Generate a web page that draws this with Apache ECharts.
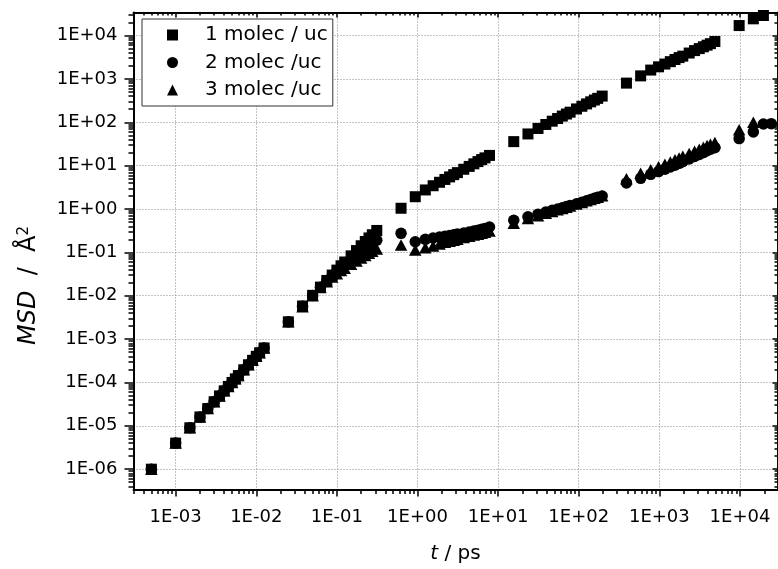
<!DOCTYPE html>
<html>
<head>
<meta charset="utf-8">
<script src="https://cdn.jsdelivr.net/npm/echarts@6/dist/echarts.min.js"></script>
<style>
html,body{margin:0;padding:0;background:#fff;}
#main{width:778px;height:569px;}
</style>
</head>
<body>
<div id="main"></div>
<script>
// time points in ps (one list shared by the three runs)
var times = [
  5e-4, 1e-3, 1.5e-3, 2e-3, 2.5e-3, 3e-3, 3.5e-3, 4e-3, 4.5e-3, 5e-3, 5.5e-3, 6e-3, 7e-3, 8e-3, 9e-3, 1e-2, 1.1e-2, 1.25e-2,
  0.025, 0.0375, 0.05, 0.0625, 0.075, 0.0875, 0.1, 0.1125, 0.125, 0.15, 0.175, 0.2, 0.225, 0.25, 0.275, 0.3125,
  0.625, 0.9375, 1.25, 1.5625, 1.875, 2.1875, 2.5, 2.8125, 3.125, 3.75, 4.375, 5, 5.625, 6.25, 6.875, 7.8125,
  15.625, 23.4375, 31.25, 39.0625, 46.875, 54.6875, 62.5, 70.3125, 78.125, 93.75, 109.375, 125, 140.625, 156.25, 171.875, 195.3125,
  390.625, 585.9375, 781.25, 976.5625, 1171.875, 1367.1875, 1562.5, 1757.8125, 1953.125, 2343.75, 2734.375, 3125, 3515.625, 3906.25, 4296.875, 4882.8125,
  9765.625, 14648.4375, 19531.25, 24414.0625
];
// MSD (A^2), 1 molec / uc  (squares)
var msd1 = [
  1e-6, 4e-6, 9e-6, 1.6e-5, 2.5e-5, 3.6e-5, 4.9e-5, 6.4e-5, 8.1e-5, 1e-4, 1.21e-4, 1.44e-4, 1.96e-4, 2.56e-4, 3.24e-4, 4e-4, 4.84e-4, 6.25e-4,
  2.5e-3, 5.8e-3, 0.0102, 0.0158, 0.0225, 0.030, 0.039, 0.049, 0.060, 0.083, 0.110, 0.142, 0.178, 0.215, 0.255, 0.32,
  1.04, 1.92, 2.75, 3.44, 4.13, 4.8, 5.5, 6.2, 6.9, 8.25, 9.6, 11.0, 12.4, 13.8, 15.1, 17.2,
  35.8, 53.8, 72, 89, 106, 122, 139, 155, 171, 203, 234, 265, 296, 326, 356, 402,
  800, 1175, 1600, 1900, 2200, 2500, 2800, 3100, 3350, 3950, 4500, 5000, 5500, 6000, 6500, 7300,
  17000, 24300, 29000, null
];
// 2 molec /uc  (circles)
var msd2 = [
  1e-6, 4e-6, 9e-6, 1.6e-5, 2.5e-5, 3.6e-5, 4.9e-5, 6.4e-5, 8.1e-5, 1e-4, 1.21e-4, 1.44e-4, 1.96e-4, 2.56e-4, 3.24e-4, 4e-4, 4.84e-4, 6.25e-4,
  2.5e-3, 5.7e-3, 0.0101, 0.0157, 0.022, 0.029, 0.036, 0.043, 0.051, 0.065, 0.080, 0.097, 0.115, 0.135, 0.155, 0.19,
  0.275, 0.176, 0.2, 0.215, 0.225, 0.235, 0.245, 0.255, 0.265, 0.28, 0.295, 0.31, 0.325, 0.34, 0.355, 0.385,
  0.55, 0.66, 0.76, 0.85, 0.93, 1.0, 1.07, 1.14, 1.2, 1.32, 1.44, 1.55, 1.66, 1.76, 1.86, 2.0,
  4.0, 5.1, 6.3, 7.3, 8.3, 9.3, 10.2, 11.3, 12.3, 14.2, 16.2, 18.1, 20, 22, 23.8, 26,
  42, 60, 91, 93
];
// 3 molec /uc  (triangles)
var msd3 = [
  1e-6, 4e-6, 9e-6, 1.6e-5, 2.5e-5, 3.6e-5, 4.9e-5, 6.4e-5, 8.1e-5, 1e-4, 1.21e-4, 1.44e-4, 1.96e-4, 2.56e-4, 3.24e-4, 4e-4, 4.84e-4, 6.25e-4,
  2.5e-3, 5.6e-3, 0.0100, 0.0155, 0.021, 0.027, 0.032, 0.038, 0.043, 0.053, 0.063, 0.074, 0.085, 0.096, 0.106, 0.12,
  0.148, 0.113, 0.128, 0.14, 0.155, 0.17, 0.18, 0.19, 0.20, 0.22, 0.235, 0.25, 0.26, 0.275, 0.29, 0.31,
  0.47, 0.6, 0.7, 0.8, 0.88, 0.96, 1.03, 1.1, 1.17, 1.3, 1.42, 1.54, 1.65, 1.76, 1.87, 2.02,
  5.0, 6.7, 8.0, 9.4, 10.8, 12.2, 13.6, 15, 16.5, 19, 21.5, 24, 26.5, 29, 31, 34,
  67, 100, null, null
];
var seriesNames = ['1 molec / uc', '2 molec /uc', '3 molec /uc'];
var xMajor = [1e-3, 1e-2, 1e-1, 1, 10, 100, 1000, 10000];
var yMajor = [1e-6, 1e-5, 1e-4, 1e-3, 1e-2, 1e-1, 1, 10, 100, 1000, 10000];
var xMin = 3e-4, xMax = 2.92e4;
var yMin = 3.4e-7, yMax = 3.4e4;

var FONT = 'DejaVu Sans';

function pairs(vals) {
  var out = [];
  for (var i = 0; i < times.length; i++) {
    if (vals[i] != null) out.push([times[i], vals[i]]);
  }
  return out;
}
// minor ticks 2..9 x 10^n inside [lo, hi]
function minors(lo, hi) {
  var res = [];
  for (var e = Math.floor(Math.log10(lo)); e <= Math.ceil(Math.log10(hi)); e++) {
    for (var m = 2; m <= 9; m++) {
      var v = m * Math.pow(10, e);
      if (v >= lo && v <= hi) res.push(v);
    }
  }
  return res;
}
function sci(v) {
  var e = Math.round(Math.log10(v));
  var a = Math.abs(e);
  return '1E' + (e < 0 ? '-' : '+') + (a < 10 ? '0' : '') + a;
}

var black = '#000';
function tickAxis(pos, vals, len, inside, showLine, min, max) {
  return {
    type: 'log', position: pos, min: min, max: max,
    axisLine: { show: showLine, lineStyle: { color: black, width: 2 } },
    axisTick: { show: true, inside: inside, length: len, customValues: vals, lineStyle: { color: black, width: 1.5 } },
    axisLabel: { show: false },
    splitLine: { show: false },
    minorTick: { show: false }
  };
}

var myChart = echarts.init(document.getElementById('main'));
myChart.setOption({
  animation: false,
  backgroundColor: '#fff',
  grid: { left: 133.5, right: 0.5, top: 12.5, bottom: 79.5, outerBoundsMode: 'none' },
  legend: {
    orient: 'vertical',
    left: 142, top: 19,
    padding: [6, 5, 6, 25],
    itemGap: 7.5,
    itemWidth: 11, itemHeight: 11,
    borderColor: '#333', borderWidth: 1,
    backgroundColor: '#fff',
    textStyle: { fontFamily: FONT, fontSize: 20, color: black, padding: [0, 0, 0, 22] },
    data: [
      { name: seriesNames[0], icon: 'rect' },
      { name: seriesNames[1], icon: 'circle' },
      { name: seriesNames[2], icon: 'triangle' }
    ]
  },
  xAxis: [
    {
      type: 'log', position: 'bottom', min: xMin, max: xMax,
      axisLine: { lineStyle: { color: black, width: 2 } },
      axisTick: { length: 7, customValues: xMajor, lineStyle: { color: black, width: 1.5 } },
      axisLabel: { customValues: xMajor, formatter: sci, fontFamily: FONT, fontSize: 18, color: black, margin: 19 },
      splitLine: { show: true, lineStyle: { color: '#888', width: 1, type: [1, 2] } },
      name: '{i|t} / ps',
      nameLocation: 'middle',
      nameGap: 54,
      nameTextStyle: { fontFamily: FONT, fontSize: 20, color: black,
        rich: { i: { fontFamily: FONT, fontSize: 20, fontStyle: 'italic', color: black } } }
    },
    tickAxis('bottom', minors(xMin, xMax), 4.5, false, false, xMin, xMax),
    tickAxis('top', xMajor, 5, true, true, xMin, xMax),
    tickAxis('top', minors(xMin, xMax), 3, true, false, xMin, xMax)
  ],
  yAxis: [
    {
      type: 'log', position: 'left', min: yMin, max: yMax,
      axisLine: { lineStyle: { color: black, width: 2 } },
      axisTick: { length: 9, customValues: yMajor, lineStyle: { color: black, width: 1.5 } },
      axisLabel: { customValues: yMajor, formatter: sci, fontFamily: FONT, fontSize: 18, color: black, margin: 16 },
      splitLine: { show: true, lineStyle: { color: '#888', width: 1, type: [1, 2] } }
    },
    tickAxis('left', minors(yMin, yMax), 5, false, false, yMin, yMax),
    tickAxis('right', yMajor, 5, true, true, yMin, yMax),
    tickAxis('right', minors(yMin, yMax), 3, true, false, yMin, yMax)
  ],
  graphic: [{
    type: 'text',
    x: 29, y: 345,
    rotation: Math.PI / 2,
    style: {
      text: '{i|MSD}  /  \u00C5{s|2}',
      fill: black,
      fontFamily: FONT, fontSize: 24,
      align: 'left', verticalAlign: 'middle',
      rich: {
        i: { fontFamily: FONT, fontSize: 24, fontStyle: 'italic', fill: black },
        s: { fontFamily: FONT, fontSize: 15, verticalAlign: 'top', fill: black }
      }
    }
  }],
  series: [
    { type: 'scatter', name: seriesNames[0], symbol: 'rect', symbolSize: 11,
      itemStyle: { color: black, opacity: 1 }, emphasis: { disabled: true }, data: pairs(msd1) },
    { type: 'scatter', name: seriesNames[1], symbol: 'circle', symbolSize: 11.5,
      itemStyle: { color: black, opacity: 1 }, emphasis: { disabled: true }, data: pairs(msd2) },
    { type: 'scatter', name: seriesNames[2], symbol: 'triangle', symbolSize: [12.5, 11.5],
      itemStyle: { color: black, opacity: 1 }, emphasis: { disabled: true }, data: pairs(msd3) }
  ]
});
</script>
</body>
</html>
